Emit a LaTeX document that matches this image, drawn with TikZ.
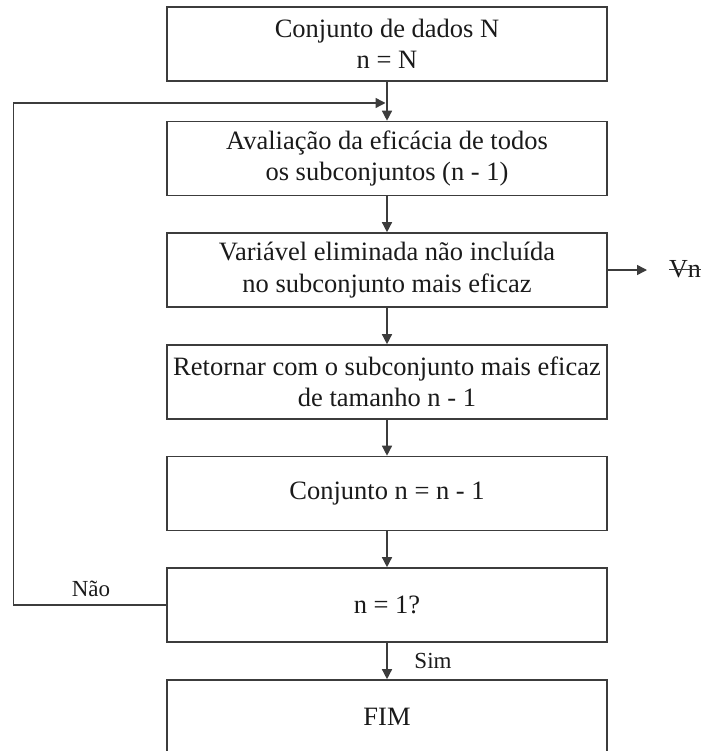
\documentclass[tikz,border=0pt]{standalone}
\usepackage{fontspec}
\setmainfont{Liberation Serif}
\usetikzlibrary{arrows.meta}
\definecolor{linegray}{HTML}{3C3C3C}
\definecolor{textblack}{HTML}{1A1A1A}
\begin{document}
\begin{tikzpicture}[x=1pt,y=-1pt,
  box/.style={draw=linegray, line width=1.6pt, minimum width=440pt,
    minimum height=74pt, align=center, inner sep=0pt,
    font=\fontsize{26.5}{31.5}\selectfont, text=textblack},
  flow/.style={draw=linegray, line width=1.4pt,
    -{Triangle[length=10pt,width=10pt]}},
  lbl/.style={font=\fontsize{23}{27}\selectfont, text=textblack, inner sep=0pt}]
\useasboundingbox (0,0) rectangle (703,751);

% process boxes
\node[box] (b1) at (387,44)    {Conjunto de dados N\\n = N};
\node[box] (b2) at (387,158.5) {Avaliação da eficácia de todos\\os subconjuntos (n - 1)};
\node[box] (b3) at (387,270)   {Variável eliminada não incluída\\no subconjunto mais eficaz};
\node[box] (b4) at (387,382)   {Retornar com o subconjunto mais eficaz\\de tamanho n - 1};
\node[box] (b5) at (387,493.5) {Conjunto n = n - 1};
\node[box] (b6) at (387,605)   {n = 1?};
\node[box] (b7) at (387,717)   {FIM};

% main flow
\draw[flow] (b1.south) -- (b2.north);
\draw[flow] (b2.south) -- (b3.north);
\draw[flow] (b3.south) -- (b4.north);
\draw[flow] (b4.south) -- (b5.north);
\draw[flow] (b5.south) -- (b6.north);
\draw[flow] (b6.south) -- (b7.north);

% loop back when n > 1
\coordinate (join) at (387,103);
\draw[flow, shorten >=1.5pt] (b6.west) -- ++(-153,0) |- (join);
\node[lbl] (nao) at (91,589) {Não};
\node[lbl] (sim) at (433,661) {Sim};

% eliminated variable
\coordinate (vtip) at (647,270);
\draw[flow] (b3.east) -- (vtip);
\node[lbl, font=\fontsize{26}{30}\selectfont] (vn) at (685,269.5) {Vn};
\draw[linegray, line width=1.2pt] (vn.west) -- (vn.east);
\end{tikzpicture}
\end{document}
